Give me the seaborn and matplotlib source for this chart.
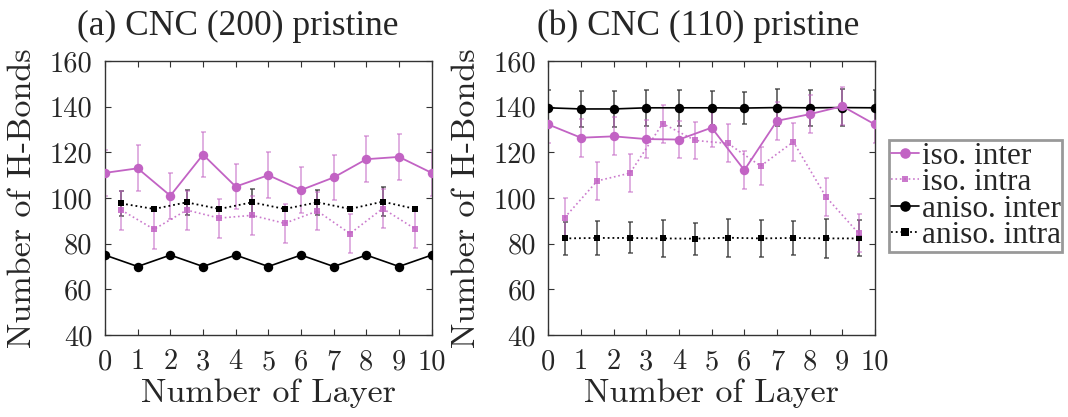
import numpy as np
import pandas as pd
import matplotlib
matplotlib.use("Agg")
import matplotlib.pyplot as plt
from matplotlib.lines import Line2D
import seaborn as sns

# Layer positions: inter-layer counts sit on integer layers, intra-layer counts between them
layers = [0, 1, 2, 3, 4, 5, 6, 7, 8, 9, 10]
mid_layers = [0.5, 1.5, 2.5, 3.5, 4.5, 5.5, 6.5, 7.5, 8.5, 9.5]

# (a) CNC (200) pristine
a_iso_inter = [111, 113, 101, 119, 105, 110, 103.5, 109, 117, 118, 111]
a_iso_inter_err = [10, 10, 10, 10, 10, 10, 10, 10, 10, 10, 10]
a_iso_intra = [94.7, 86.3, 94.7, 91.2, 92.4, 88.9, 94.3, 84.4, 95.4, 86.4]
a_iso_intra_err = [8.5, 8.5, 8.5, 8.5, 8.5, 8.5, 8.5, 8.5, 8.5, 8.5]
a_aniso_inter = [75, 70, 75, 70, 75, 70, 75, 70, 75, 70, 75]
a_aniso_intra = [97.6, 95.2, 98.1, 95.2, 98.1, 95.2, 98.1, 95.2, 98.4, 95.2]
a_aniso_intra_err = [5.5, 0, 5.5, 0, 5.8, 0, 5.5, 0, 6.2, 0]

# (b) CNC (110) pristine
b_iso_inter = [132.2, 126.4, 127, 125.8, 125.6, 130.8, 112.2, 133.8, 136.7, 140.2, 132.2]
b_iso_inter_err = [8.3, 8.3, 8.3, 8.3, 8.3, 8.3, 8.3, 8.3, 8.3, 8.3, 8.3]
b_iso_intra = [91.4, 107.5, 110.9, 132.6, 125.2, 123.9, 114, 124.6, 100.5, 84.5]
b_iso_intra_err = [8.5, 8.3, 8.3, 8.3, 8.3, 8.3, 8.3, 8.3, 8.3, 8.3]
b_aniso_inter = [139.5, 139, 139, 139.5, 139.5, 139.5, 139.4, 139.6, 139.5, 139.6, 139.5]
b_aniso_inter_err = [8, 8, 8, 8, 8, 7.5, 7, 8, 8, 8, 8]
b_aniso_intra = [82.3, 82.5, 82.5, 82.3, 82.2, 82.6, 82.3, 82.5, 82.3, 82.3]
b_aniso_intra_err = [7.4, 7.5, 6.8, 8, 7, 8.3, 8.2, 7.4, 8.4, 7.9]

titles = ["(a) CNC (200) pristine", "(b) CNC (110) pristine"]
series_names = ["iso. inter", "iso. intra", "aniso. inter", "aniso. intra"]
x_ticks = [0, 1, 2, 3, 4, 5, 6, 7, 8, 9, 10]
y_ticks = [40, 60, 80, 100, 120, 140, 160]

PURPLE = "#C263C4"
BLACK = "#000000"
SERIF = ["Liberation Serif", "DejaVu Serif"]

sns.set_style("white")
plt.rcParams["font.family"] = SERIF

fig = plt.figure(figsize=(10.68, 4.17), dpi=100)
W, H = 1068, 417
ax_a = fig.add_axes([105 / W, (H - 335) / H, 326.7 / W, 274 / H])
ax_b = fig.add_axes([548.3 / W, (H - 335) / H, 326.7 / W, 274 / H])

styles = {
    "iso. inter": dict(color=PURPLE, ls="-", lw=1.3, marker="o", ms=6.8, alpha=1.0),
    "iso. intra": dict(color=PURPLE, ls=":", lw=1.2, marker="s", ms=4.2, alpha=0.85),
    "aniso. inter": dict(color=BLACK, ls="-", lw=1.2, marker="o", ms=6.8, alpha=1.0),
    "aniso. intra": dict(color=BLACK, ls=":", lw=1.3, marker="s", ms=4.6, alpha=1.0),
}


def draw_panel(ax, data, title, title_x):
    # data: name -> (x, y, err)
    order = ["aniso. inter", "aniso. intra", "iso. intra", "iso. inter"]
    for name in order:
        x, y, err = data[name]
        st = styles[name]
        if err is not None:
            ecol = PURPLE if st["color"] == PURPLE else "#333333"
            ax.errorbar(x, y, yerr=err, fmt="none", ecolor=ecol,
                        elinewidth=1.3, capsize=1.8, capthick=1.2,
                        alpha=0.55 if st["color"] == PURPLE else 0.75, zorder=2)
        df = pd.DataFrame({"layer": x, "hb": y})
        sns.lineplot(data=df, x="layer", y="hb", ax=ax, color=st["color"],
                     linestyle=st["ls"], linewidth=st["lw"], marker=st["marker"],
                     markersize=st["ms"], markeredgewidth=0, alpha=st["alpha"],
                     zorder=3)
    ax.set_xlim(0, 10)
    ax.set_ylim(40, 160)
    ax.set_xticks(x_ticks)
    ax.set_yticks(y_ticks)
    ax.set_xticklabels([str(t) for t in x_ticks], fontfamily="cmr10", fontsize=20.5)
    ax.set_yticklabels([str(t) for t in y_ticks], fontfamily="cmr10", fontsize=20.5)
    ax.tick_params(direction="in", length=4, width=0.8, color="#333333",
                   top=True, right=True, bottom=True, left=True)
    ax.tick_params(axis="x", pad=10)
    ax.tick_params(axis="y", pad=9)
    for sp in ax.spines.values():
        sp.set_visible(True)
        sp.set_color("#333333")
        sp.set_linewidth(1.0)
    ax.set_xlabel("Number of Layer", fontfamily="cmr10", fontsize=24.5, labelpad=2)
    ax.set_ylabel("Number of H-Bonds", fontfamily="cmr10", fontsize=24.5, labelpad=9)
    fig.text(title_x / W, (H - 35) / H, title, fontsize=25.5, fontfamily=SERIF,
             ha="center", va="baseline")
    ax.grid(False)


draw_panel(ax_a, {
    "iso. inter": (layers, a_iso_inter, a_iso_inter_err),
    "iso. intra": (mid_layers, a_iso_intra, a_iso_intra_err),
    "aniso. inter": (layers, a_aniso_inter, None),
    "aniso. intra": (mid_layers, a_aniso_intra, a_aniso_intra_err),
}, titles[0], 238)

draw_panel(ax_b, {
    "iso. inter": (layers, b_iso_inter, b_iso_inter_err),
    "iso. intra": (mid_layers, b_iso_intra, b_iso_intra_err),
    "aniso. inter": (layers, b_aniso_inter, b_aniso_inter_err),
    "aniso. intra": (mid_layers, b_aniso_intra, b_aniso_intra_err),
}, titles[1], 698)

handles = []
for name in series_names:
    st = styles[name]
    handles.append(Line2D([0], [0], color=st["color"], linestyle=st["ls"],
                          linewidth=st["lw"], marker=st["marker"],
                          markersize=st["ms"] + 0.8, markeredgewidth=0,
                          alpha=st["alpha"]))
leg = fig.legend(handles, series_names, loc="upper left",
                 bbox_to_anchor=(889 / W, (H - 140) / H),
                 prop={"family": SERIF, "size": 22.5}, frameon=True, fancybox=False,
                 handlelength=0.9, handletextpad=0.1, borderpad=0.05,
                 labelspacing=-0.08, borderaxespad=0)
leg.get_frame().set_edgecolor("#808080")
leg.get_frame().set_linewidth(2.0)

fig.savefig("out.png", dpi=100)
